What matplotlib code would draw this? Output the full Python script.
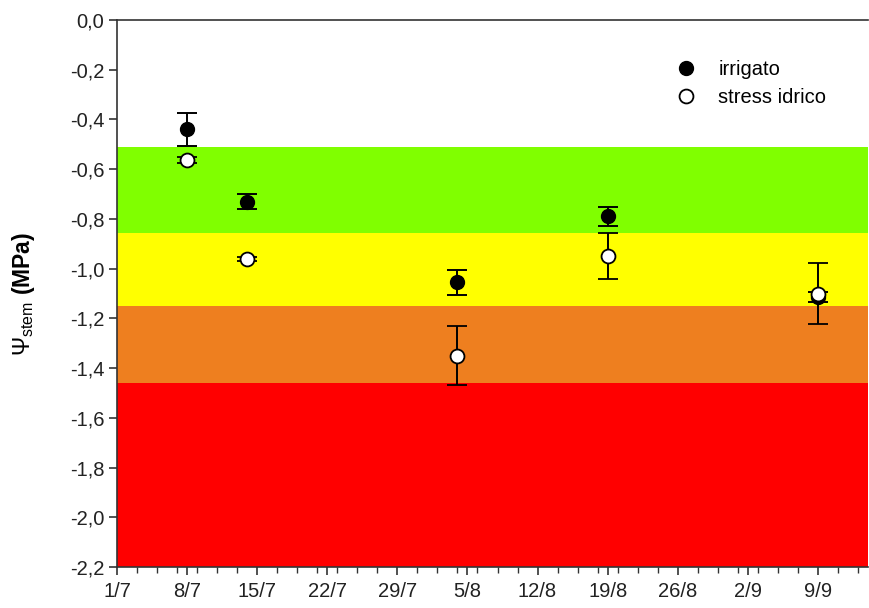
import datetime as dt
import matplotlib
matplotlib.use("Agg")
import matplotlib.pyplot as plt
from matplotlib.lines import Line2D
from matplotlib.ticker import FixedLocator, MultipleLocator

# ---- data ----
dates = ["8/7", "14/7", "4/8", "19/8", "9/9"]
irrigato = [-0.44, -0.73, -1.055, -0.79, -1.115]
irrigato_err = [0.065, 0.032, 0.05, 0.038, 0.02]
stress = [-0.565, -0.96, -1.35, -0.95, -1.10]
stress_err = [0.012, 0.008, 0.12, 0.093, 0.122]
xtick_labels = ["1/7", "8/7", "15/7", "22/7", "29/7", "5/8", "12/8", "19/8", "26/8", "2/9", "9/9"]
band_limits = [0.0, -0.51, -0.855, -1.15, -1.46, -2.2]
band_colors = ["#FFFFFF", "#80FF00", "#FFFF00", "#EE7F1F", "#FF0000"]

start = dt.date(2014, 7, 1)
def day(s):
    d, m = s.split("/")
    return (dt.date(2014, int(m), int(d)) - start).days

x = [day(s) for s in dates]
xt = [day(s) for s in xtick_labels]

plt.rcParams["font.family"] = ["Liberation Sans", "DejaVu Sans"]
plt.rcParams["mathtext.fontset"] = "custom"
plt.rcParams["mathtext.rm"] = "Liberation Sans"
plt.rcParams["mathtext.bf"] = "Liberation Sans:bold"

fig = plt.figure(figsize=(8.69, 6.08), dpi=100)
ax = fig.add_axes([117/869, 41/608, (868-117)/869, (567-20)/608])

# background bands
for i in range(len(band_colors)):
    ax.axhspan(band_limits[i+1], band_limits[i], color=band_colors[i], lw=0, zorder=0)

ax.errorbar(x, irrigato, yerr=irrigato_err, fmt="o", color="black", mfc="black",
            mec="black", ms=10, elinewidth=1.4, capsize=7, capthick=1.4, zorder=3)
ax.errorbar(x, stress, yerr=stress_err, fmt="o", color="black", mfc="white",
            mec="black", ms=10, mew=1.3, elinewidth=1.4, capsize=7, capthick=1.4, zorder=4)

ax.set_xlim(0, 75)
ax.set_ylim(-2.2, 0.0)
ax.xaxis.set_major_locator(FixedLocator(xt))
ax.set_xticklabels(xtick_labels)
ax.xaxis.set_minor_locator(MultipleLocator(2))
yt = [round(-0.2 * i, 1) for i in range(12)]
ax.set_yticks(yt)
ax.set_yticklabels([f"{v:.1f}".replace(".", ",") if v != 0 else "0,0" for v in yt])

ax.tick_params(axis="both", which="major", direction="out", length=6, width=1.2,
               colors="#333333", labelsize=14.5, labelcolor="#222222")
ax.tick_params(axis="x", which="minor", direction="out", length=4, width=1.0, colors="#333333")
ax.tick_params(axis="x", which="major", pad=5)
ax.tick_params(axis="y", which="major", pad=3)

for s in ["left", "bottom", "top"]:
    ax.spines[s].set_color("#333333")
    ax.spines[s].set_linewidth(1.2)
ax.spines["right"].set_visible(False)

ax.set_ylabel(r"$\Psi_{\mathrm{stem}}$ $\mathbf{(MPa)}$", fontsize=16.5, labelpad=24)

handles = [
    Line2D([], [], ls="none", marker="o", ms=10, mfc="black", mec="black"),
    Line2D([], [], ls="none", marker="o", ms=10, mfc="white", mec="black", mew=1.3),
]
leg = ax.legend(handles, ["irrigato", "stress idrico"], loc="upper left",
                bbox_to_anchor=(0.731, 0.941), frameon=False, fontsize=14.5,
                handletextpad=1.0, handlelength=1.2, labelspacing=0.45,
                borderaxespad=0)

fig.savefig("out.png", dpi=100)
